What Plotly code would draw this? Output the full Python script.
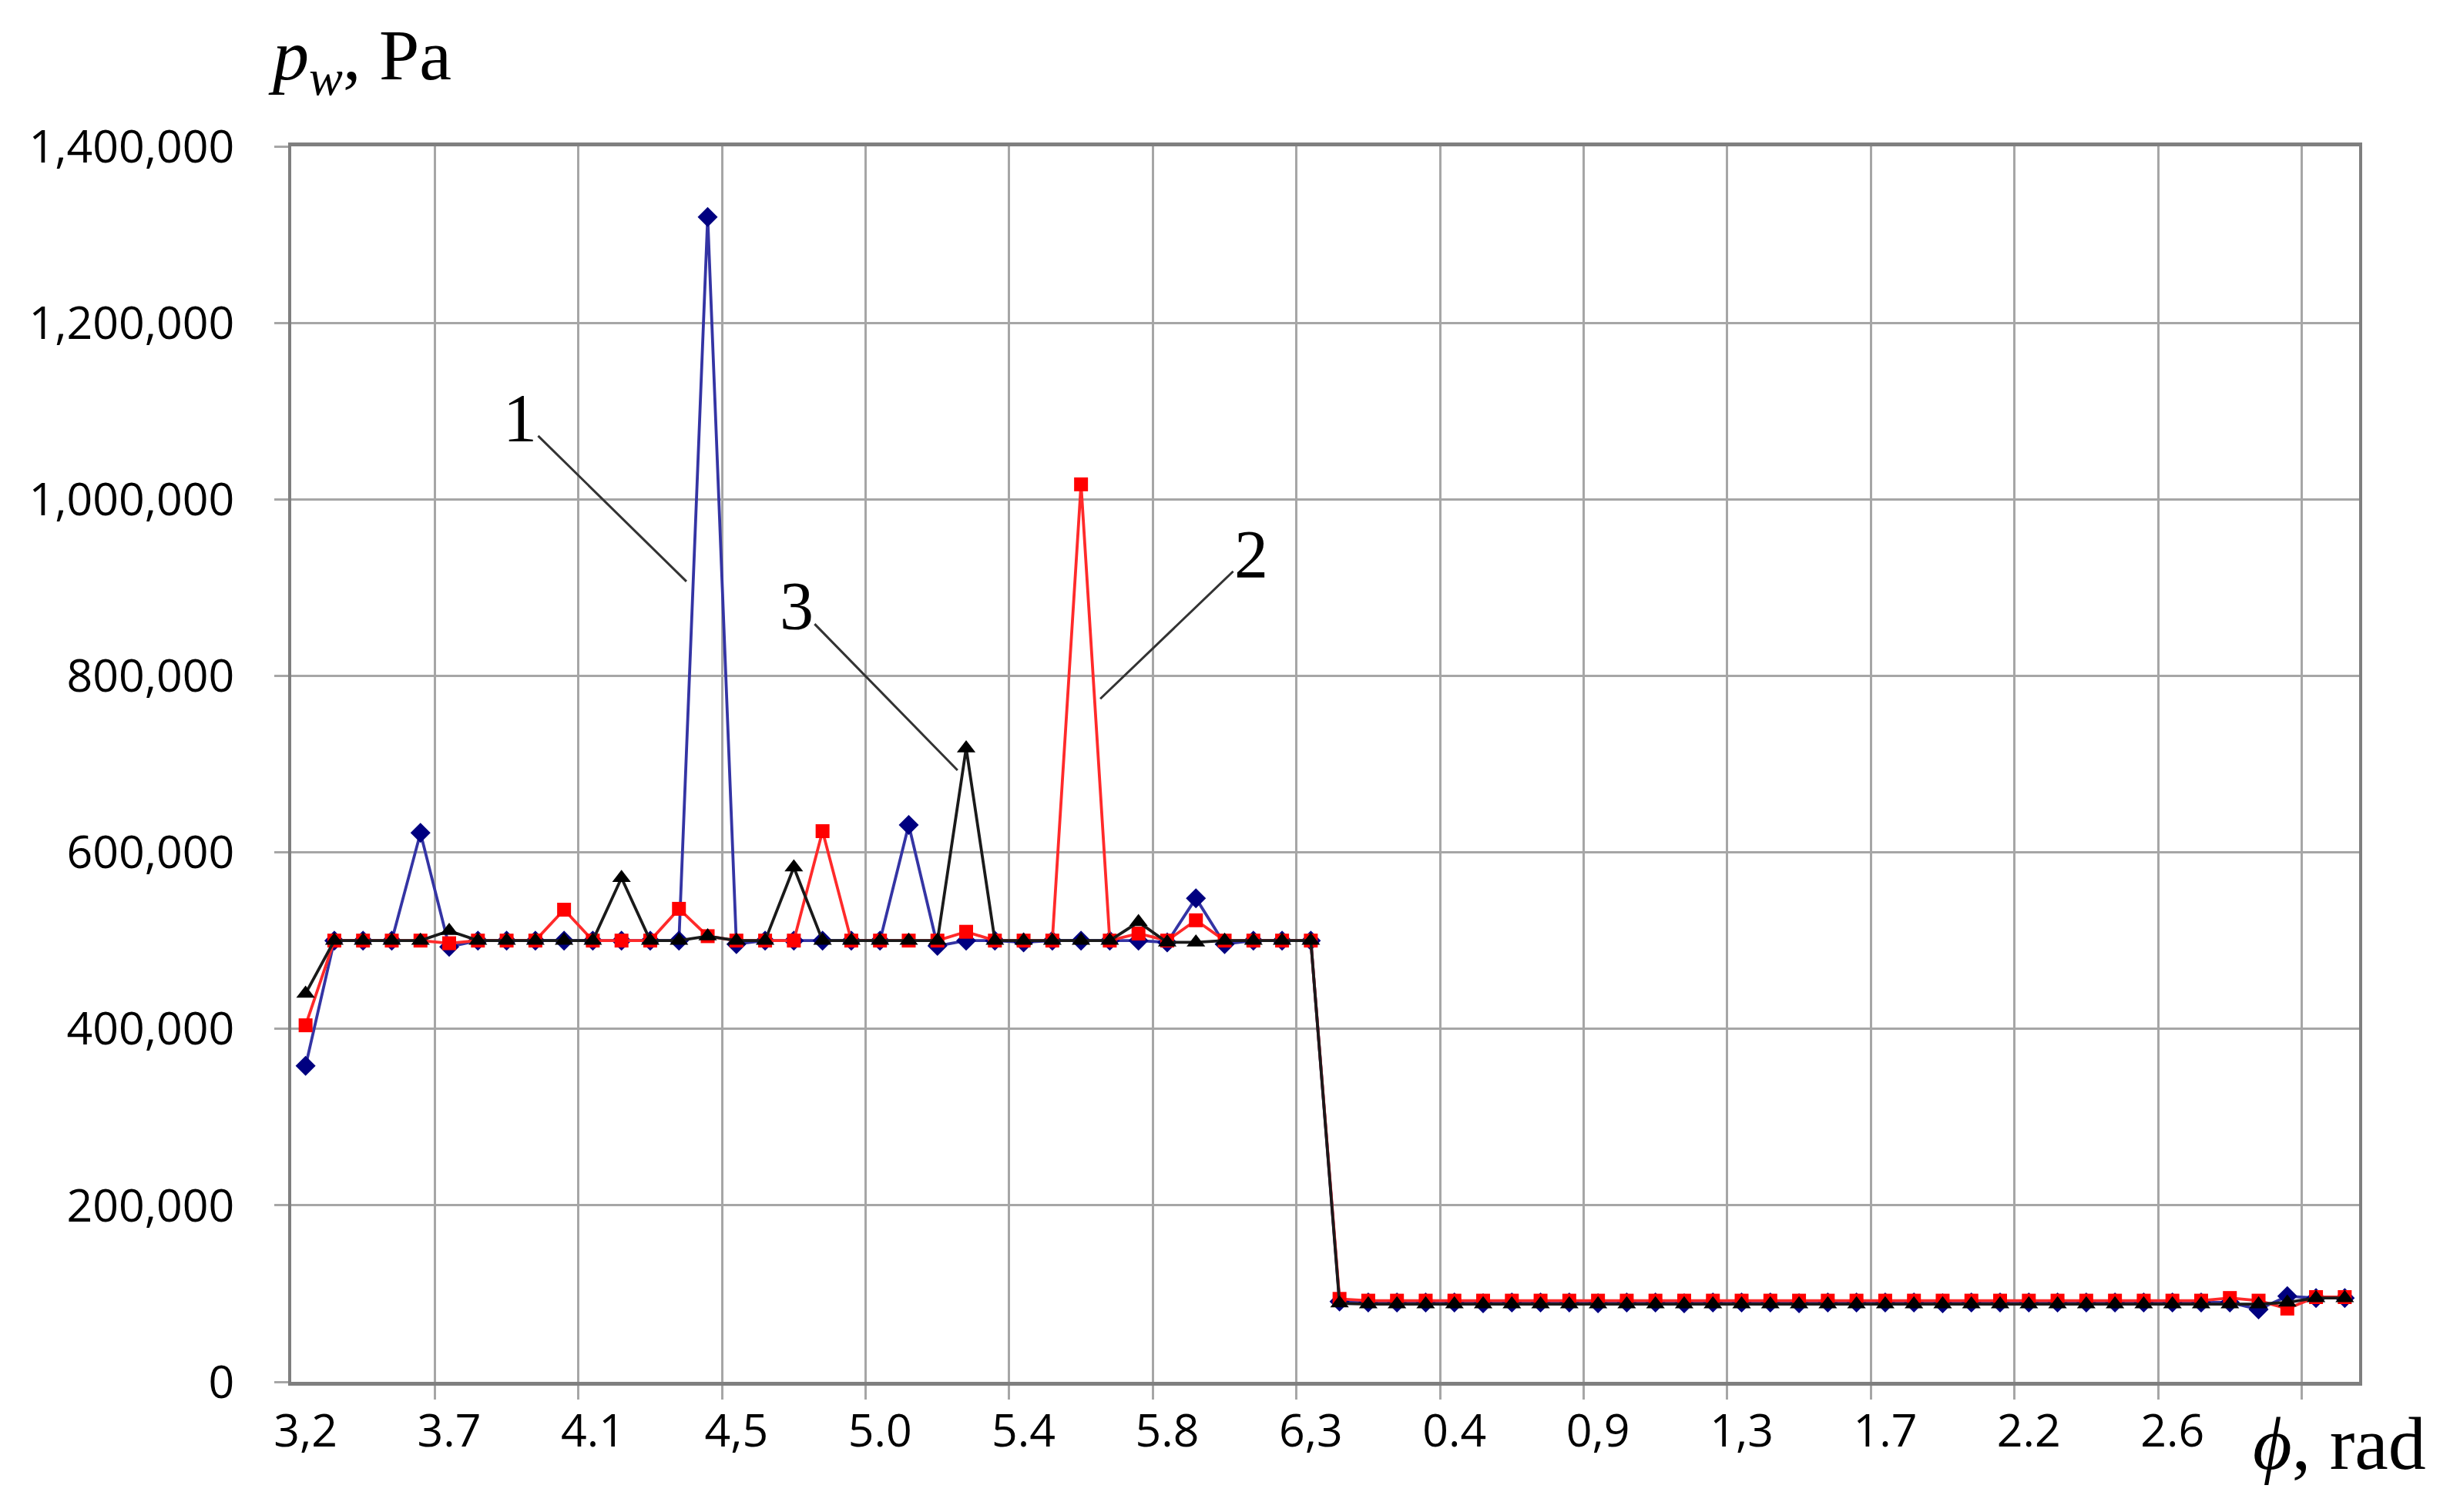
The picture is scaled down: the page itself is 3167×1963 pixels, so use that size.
import plotly.graph_objects as go

# category positions (72 angular steps), labels shown every 5th category
n_cat = 72
tick_pos = [0, 5, 10, 15, 20, 25, 30, 35, 40, 45, 50, 55, 60, 65]
tick_labels = ["3,2", "3.7", "4.1", "4,5", "5.0", "5.4", "5.8", "6,3",
               "0.4", "0,9", "1,3", "1.7", "2.2", "2.6"]

# curve 1 (blue), 2 (red), 3 (black): p_w in Pa
p1_high = [358000, 500000, 500000, 500000, 622000, 493000, 500000, 500000, 500000, 500000,
           500000, 500000, 500000, 500000, 1320000, 496000, 500000, 500000, 500000, 500000,
           500000, 631000, 494000, 500000, 500000, 498000, 500000, 500000, 500000, 500000,
           498000, 548000, 496000, 500000, 500000, 500000]
p1_low = [91000, 90000, 90000, 90000, 90000, 89000, 90000, 90000, 90000, 89000,
          90000, 90000, 89000, 90000, 90000, 90000, 89000, 90000, 90000, 90000,
          90000, 89000, 90000, 90000, 90000, 90000, 90000, 90000, 90000, 90000,
          90000, 90000, 82000, 97000, 95000, 95000]

p2_high = [404000, 500000, 500000, 500000, 500000, 497000, 500000, 500000, 500000, 535000,
           500000, 500000, 500000, 536000, 505000, 500000, 500000, 500000, 624000, 500000,
           500000, 500000, 500000, 510000, 500000, 500000, 500000, 1017000, 500000, 508000,
           500000, 523000, 500000, 500000, 500000, 500000]
p2_low = [94000, 92000, 92000, 92000, 92000, 92000, 92000, 92000, 92000, 92000,
          92000, 92000, 92000, 92000, 92000, 92000, 92000, 92000, 92000, 92000,
          92000, 92000, 92000, 92000, 92000, 92000, 92000, 92000, 92000, 92000,
          92000, 95000, 92000, 83000, 96000, 96000]

p3_high = [440000, 500000, 500000, 500000, 500000, 511000, 500000, 500000, 500000, 500000,
           500000, 571000, 500000, 500000, 505000, 500000, 500000, 583000, 500000, 500000,
           500000, 500000, 500000, 718000, 500000, 500000, 500000, 500000, 500000, 521000,
           498000, 498000, 500000, 500000, 500000, 500000]
p3_low = [89000, 88000, 88000, 88000, 88000, 88000, 88000, 88000, 88000, 88000,
          88000, 88000, 88000, 88000, 88000, 88000, 88000, 88000, 88000, 88000,
          88000, 88000, 88000, 88000, 88000, 88000, 88000, 88000, 88000, 88000,
          88000, 88000, 88000, 90000, 95000, 95000]

series = [
    ("1", p1_high + p1_low, "#3434a4", "#000080", "diamond", 20),
    ("2", p2_high + p2_low, "#ff2a2a", "#ff0000", "square", 18),
    ("3", p3_high + p3_low, "#1a1a1a", "#000000", "triangle-up", 21),
]

x = list(range(n_cat))
fig = go.Figure()
for name, vals, lcol, mcol, sym, size in series:
    fig.add_trace(go.Scatter(
        x=x, y=vals, name=name, mode="lines+markers",
        line=dict(color=lcol, width=3.8),
        marker=dict(symbol=sym, size=size, color=mcol, line=dict(width=0)),
    ))

grid = "#a6a6a6"
axis_col = "#7f7f7f"
tick_font = dict(family="Open Sans", size=59, color="#000000")
serif = "Liberation Serif"

fig.update_xaxes(
    range=[-0.5, n_cat - 0.5],
    tickmode="array", tickvals=tick_pos, ticktext=tick_labels,
    ticks="", showgrid=False, zeroline=False,
    showline=True, linecolor=axis_col, linewidth=5, mirror=True,
    tickfont=tick_font, ticklabelstandoff=8,
    minor=dict(tickmode="array", tickvals=[p - 0.5 for p in tick_pos[1:]] + [69.5],
               ticks="outside", ticklen=18, tickwidth=3, tickcolor=grid,
               showgrid=True, gridcolor=grid, gridwidth=3),
)
fig.update_yaxes(
    range=[0, 1400000], dtick=200000, tickformat=",d",
    ticks="outside", ticklen=18, tickwidth=3, tickcolor=grid,
    showgrid=True, gridcolor=grid, gridwidth=3, zeroline=False,
    showline=True, linecolor=axis_col, linewidth=4, mirror=True,
    tickfont=tick_font, ticklabelstandoff=40,
)

# curve numbers with leader lines
labels = [("1", 13.26, 907000, -216, -212),
          ("2", 27.67, 774000, 196, -188),
          ("3", 22.70, 693000, -209, -214)]
for txt, ax_x, ax_y, dx, dy in labels:
    fig.add_annotation(x=ax_x, y=ax_y, text=txt, showarrow=True, ax=dx, ay=dy,
                       arrowhead=0, arrowwidth=3, arrowcolor="#333333",
                       font=dict(family=serif, size=88, color="#000000"))

fig.add_annotation(xref="paper", yref="paper", x=-0.012, y=1.07,
                   xanchor="left", yanchor="middle", showarrow=False,
                   text="<i>p</i><sub><i>w</i></sub>, Pa",
                   font=dict(family=serif, size=94, color="#000000"))
fig.add_annotation(xref="paper", yref="paper", x=1.033, y=-0.05,
                   xanchor="right", yanchor="middle", showarrow=False,
                   text="<i>ϕ</i>, rad",
                   font=dict(family=serif, size=98, color="#000000"))

fig.update_layout(
    width=3167, height=1963,
    margin=dict(l=370, r=113, t=182, b=177),
    plot_bgcolor="#ffffff", paper_bgcolor="#ffffff",
    showlegend=False,
)

fig.write_html("out.html")
